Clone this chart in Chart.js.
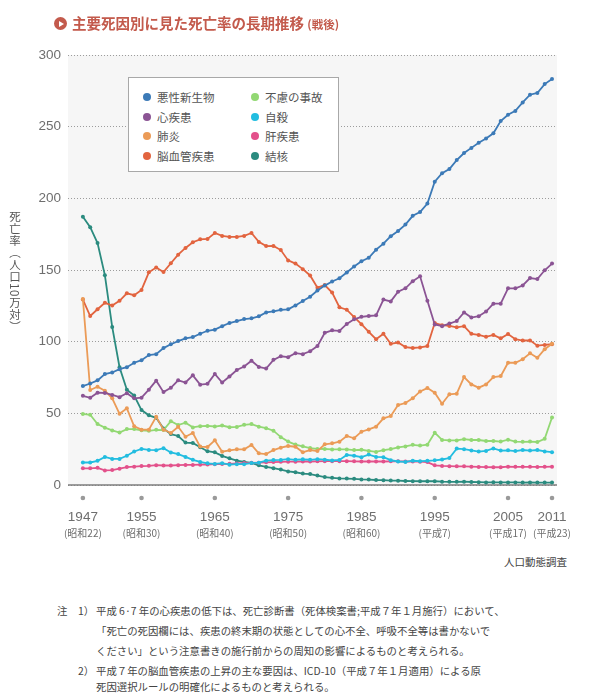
<!DOCTYPE html>
<html lang="ja">
<head>
<meta charset="utf-8">
<script src="https://cdn.jsdelivr.net/npm/chart.js@4.4.1/dist/chart.umd.min.js"></script>
<style>
  html,body{margin:0;padding:0;background:#fff;}
  body{width:593px;height:694px;position:relative;overflow:hidden;font-family:"Noto Sans CJK JP","Noto Sans",sans-serif;}
  #wrap{position:absolute;left:0;top:0;width:593px;height:545px;}
  .abs{position:absolute;white-space:nowrap;}
  #title{left:54px;top:13px;color:#c35a4c;font-weight:bold;font-size:14.5px;line-height:20px;}
  #title .ico{display:inline-block;width:13px;height:13px;border-radius:50%;background:#c35a4c;position:relative;vertical-align:-1px;margin-right:5px;}
  #title .ico:after{content:"";position:absolute;left:5px;top:3.5px;border-left:5px solid #fff;border-top:3px solid transparent;border-bottom:3px solid transparent;}
  #title small{font-size:11.5px;}
  #ytitle{left:7px;top:211px;writing-mode:vertical-rl;font-size:11.5px;color:#555;letter-spacing:0.5px;}
  #legend{left:128px;top:77px;width:211px;height:95px;border:1px solid #a8a8a8;background:#fff;box-sizing:border-box;}
  .li{position:absolute;font-size:11.5px;color:#555;line-height:14px;}
  .dot{position:absolute;width:8px;height:8px;border-radius:50%;}
  #source{right:26px;top:554px;font-size:10.5px;color:#444;}
  .note{font-size:10.4px;color:#444;line-height:12px;}
</style>
</head>
<body>
<div id="wrap"><canvas id="c" width="593" height="545"></canvas></div>
<div id="title" class="abs"><span class="ico"></span>主要死因別に見た死亡率の長期推移 <small>(戦後)</small></div>
<div id="ytitle" class="abs">死亡率（人口10万対）</div>
<div id="legend" class="abs"></div>
<div id="source" class="abs">人口動態調査</div>
<div class="abs note" style="left:57px;top:605px;">注</div>
<div class="abs note" style="left:78px;top:605px;">1）</div>
<div class="abs note" style="left:96px;top:605px;">平成 6·7 年の心疾患の低下は、死亡診断書（死体検案書;平成７年１月施行）において、</div>
<div class="abs note" style="left:96px;top:625px;">「死亡の死因欄には、疾患の終末期の状態としての心不全、呼吸不全等は書かないで</div>
<div class="abs note" style="left:96px;top:645px;">ください」という注意書きの施行前からの周知の影響によるものと考えられる。</div>
<div class="abs note" style="left:78px;top:665px;">2）</div>
<div class="abs note" style="left:96px;top:665px;">平成７年の脳血管疾患の上昇の主な要因は、ICD-10（平成７年１月適用）による原</div>
<div class="abs note" style="left:96px;top:681px;">死因選択ルールの明確化によるものと考えられる。</div>
<script>
const years = [1947,1948,1949,1950,1951,1952,1953,1954,1955,1956,1957,1958,1959,1960,
  1961,1962,1963,1964,1965,1966,1967,1968,1969,1970,1971,1972,1973,1974,1975,
  1976,1977,1978,1979,1980,1981,1982,1983,1984,1985,1986,1987,1988,1989,1990,
  1991,1992,1993,1994,1995,1996,1997,1998,1999,2000,2001,2002,2003,2004,2005,
  2006,2007,2008,2009,2010,2011];

const cancer = [69.0,70.8,73.0,77.4,78.5,80.8,82.2,85.3,87.1,90.7,91.3,95.5,98.2,100.4,
  102.3,103.2,105.5,107.6,108.4,110.8,113.0,114.4,115.8,116.3,117.7,120.4,121.2,122.2,122.6,
  125.3,128.4,131.3,135.7,139.1,142.0,144.2,148.3,152.5,156.1,158.5,164.2,168.4,173.6,177.2,
  181.7,187.8,190.4,196.4,211.6,217.5,220.4,226.7,231.6,235.2,238.8,241.7,245.4,253.9,258.3,
  261.0,266.9,272.3,273.5,279.7,283.2];

const heart = [62.2,60.8,64.4,64.2,62.8,61.3,64.0,60.5,60.9,66.5,72.8,64.8,67.8,73.0,
  71.5,76.5,70.0,70.6,77.5,71.5,75.7,80.2,82.7,86.7,82.4,81.2,87.3,89.8,89.2,
  92.0,91.3,93.3,96.9,106.2,107.9,107.5,112.4,115.6,117.3,117.9,118.4,129.4,128.1,134.8,
  137.2,142.2,145.6,128.6,112.0,110.8,112.6,114.4,120.4,116.8,117.8,121.0,126.5,126.5,137.2,
  137.2,139.2,144.4,143.7,149.8,154.5];

const pneumonia = [129.8,66.3,68.6,65.8,60.5,49.7,53.5,41.0,38.6,38.6,47.6,38.6,36.3,40.6,
  33.7,36.3,26.8,26.5,31.2,23.2,24.2,24.9,24.9,27.9,22.1,21.6,24.4,26.0,27.2,
  26.7,22.8,24.4,23.7,28.4,29.1,30.2,34.2,32.6,37.2,38.8,40.7,46.5,48.1,55.8,
  57.2,60.5,65.3,67.6,64.4,56.7,63.3,63.7,75.3,70.2,67.9,70.2,75.3,76.0,85.3,
  85.3,87.7,91.9,88.8,94.7,98.6];

const stroke = [129.4,117.9,122.6,127.1,125.2,128.5,133.7,132.4,136.1,148.4,151.7,148.6,154.7,160.7,
  165.4,169.4,171.4,171.7,175.8,173.8,173.1,173.1,173.8,175.8,169.6,166.7,166.8,163.9,156.7,
  154.5,150.6,146.2,137.7,139.5,134.3,124.0,122.3,117.2,112.2,106.9,101.7,105.5,98.5,99.4,
  96.2,95.6,96.0,96.9,113.0,111.5,111.0,110.0,110.8,105.5,104.7,103.4,104.7,102.3,105.3,
  101.7,100.8,100.9,97.2,97.7,98.2];

const accident = [49.6,49.0,42.5,40.0,38.1,36.6,39.0,39.0,38.2,37.8,38.5,38.3,44.5,41.8,
  43.5,40.2,41.0,41.2,40.8,41.5,40.3,40.5,42.0,42.5,40.7,39.6,37.9,33.4,30.3,
  28.2,27.0,25.8,25.2,25.1,24.8,24.9,24.8,24.4,24.6,23.8,23.1,24.3,25.1,26.2,
  26.9,28.0,27.5,28.1,36.5,31.4,31.1,31.1,32.0,31.4,31.4,30.7,30.7,30.3,31.6,
  30.3,30.1,30.3,30.0,32.2,47.1];

const suicide = [15.7,15.7,16.9,19.6,18.2,18.2,20.4,23.4,25.2,24.5,24.3,25.7,22.7,21.6,
  19.6,17.6,16.1,15.1,14.7,15.2,14.2,14.5,14.5,15.3,15.6,17.0,17.4,17.5,18.0,
  17.6,17.9,17.6,18.0,17.7,17.1,17.5,21.0,20.4,19.4,21.2,19.6,19.4,17.3,16.4,
  16.1,16.9,16.6,16.9,17.2,17.8,18.8,25.4,25.0,24.1,23.3,23.8,25.5,24.0,24.2,
  23.7,24.4,24.0,24.4,23.4,22.9];

const liver = [11.6,11.6,12.0,10.2,10.4,11.4,12.5,12.8,13.2,13.4,13.8,13.6,13.6,13.8,
  14.0,14.0,14.2,14.3,14.5,14.6,14.8,15.0,15.3,15.5,15.6,15.8,16.0,16.2,16.3,
  16.3,16.4,16.4,16.5,16.6,16.6,16.6,16.6,16.5,16.4,16.4,16.4,16.4,16.5,16.5,
  16.4,16.4,16.3,16.0,13.7,13.3,13.1,13.0,13.0,12.8,12.6,12.5,12.4,12.4,12.8,
  12.7,12.7,12.7,12.6,12.7,12.8];

const tb = [187.2,179.9,168.8,146.4,110.3,82.2,66.5,62.4,52.3,48.6,46.9,39.4,35.5,34.2,
  29.6,29.3,26.3,23.6,22.8,20.3,18.6,17.0,16.1,15.4,13.7,12.6,11.7,10.8,9.5,
  8.9,8.0,7.6,6.6,5.5,5.0,4.6,4.5,4.3,3.9,3.8,3.5,3.4,3.1,3.0,
  2.8,2.7,2.6,2.6,2.6,2.3,2.2,2.2,2.3,2.1,2.0,1.8,1.9,1.8,1.8,
  1.8,1.7,1.8,1.7,1.7,1.7];

const seriesNames = ['悪性新生物','心疾患','肺炎','脳血管疾患','不慮の事故','自殺','肝疾患','結核'];
const seriesData = [cancer, heart, pneumonia, stroke, accident, suicide, liver, tb];
const seriesColors = ['#3c7ab7','#8b5494','#eb9b57','#e2643f','#92d873','#22bde0','#e3518b','#2b8b7f'];

const xTickYears = [1947,1955,1965,1975,1985,1995,2005,2011];
const xTickEras = ['(昭和22)','(昭和30)','(昭和40)','(昭和50)','(昭和60)','(平成7)','(平成17)','(平成23)'];

// legend (HTML, built from series arrays)
const leg = document.getElementById('legend');
seriesNames.forEach((n,i)=>{
  const col = i < 4 ? 0 : 1, row = i % 4;
  const d = document.createElement('div');
  d.className='dot'; d.style.background = seriesColors[i];
  d.style.left = (col ? 122 : 14) + 'px'; d.style.top = (15 + row*19.7) + 'px';
  leg.appendChild(d);
  const t = document.createElement('div');
  t.className='li'; t.textContent = n;
  t.style.left = (col ? 136 : 28) + 'px'; t.style.top = (12 + row*19.7) + 'px';
  leg.appendChild(t);
});

const bgPlugin = {
  id:'bg',
  beforeDraw(chart){
    const {ctx, chartArea:a} = chart;
    ctx.save(); ctx.fillStyle = '#f6f6f6';
    ctx.fillRect(a.left, a.top, a.right-a.left, a.bottom-a.top);
    ctx.restore();
  },
  beforeDatasetsDraw(chart){
    const {ctx, chartArea:a, scales:{y}} = chart;
    const y0 = y.getPixelForValue(0);
    ctx.save(); ctx.strokeStyle = '#7d7d7d'; ctx.lineWidth = 1.6;
    ctx.beginPath(); ctx.moveTo(a.left, y0); ctx.lineTo(a.right, y0); ctx.stroke();
    ctx.restore();
  },
  afterDraw(chart){
    const {ctx, scales:{x}} = chart;
    ctx.save();
    xTickYears.forEach((yr,i)=>{
      const px = x.getPixelForValue(yr);
      ctx.fillStyle = '#9a9a9a';
      ctx.beginPath(); ctx.arc(px, 498, 2.3, 0, Math.PI*2); ctx.fill();
      ctx.fillStyle = '#6e6e6e'; ctx.textAlign='center'; ctx.textBaseline='middle';
      ctx.font = '13.5px "Liberation Sans", Arial, sans-serif';
      ctx.fillText(String(yr), px, 517);
      ctx.font = '10px "Noto Sans CJK JP", sans-serif';
      ctx.fillText(xTickEras[i], px, 533);
    });
    ctx.restore();
  }
};

Chart.defaults.font.family = '"Liberation Sans", Arial, sans-serif';

new Chart(document.getElementById('c'), {
  type:'line',
  data:{
    datasets: seriesNames.map((n,i)=>({
      label:n,
      data: years.map((yr,j)=>({x:yr, y:seriesData[i][j]})),
      borderColor: seriesColors[i],
      backgroundColor: seriesColors[i],
      pointBackgroundColor: seriesColors[i],
      borderWidth: 1.8,
      pointRadius: 2,
      pointBorderWidth: 0,
      tension: 0,
      fill:false
    }))
  },
  plugins:[bgPlugin],
  options:{
    responsive:false,
    animation:false,
    layout:{padding:{left:0,right:36,top:55,bottom:60}},
    plugins:{legend:{display:false}, tooltip:{enabled:false}},
    scales:{
      x:{type:'linear', min:1944.97, max:2011.68, display:false},
      y:{
        min:0, max:300,
        afterFit(s){ s.width = 68; },
        ticks:{stepSize:50, padding:7, color:'#6e6e6e', font:{size:13.5}},
        border:{display:false, dash:[1,2]},
        grid:{color:'#9c9c9c', lineWidth:1, drawTicks:false}
      }
    }
  }
});
</script>
</body>
</html>
